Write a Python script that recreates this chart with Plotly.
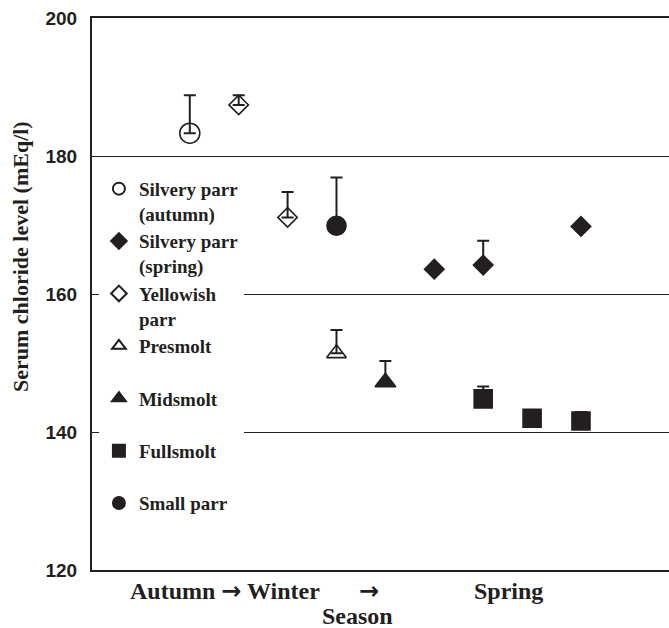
import plotly.graph_objects as go

# Sample position along the season axis (1 = first autumn sample ... 9 = late spring)
groups = [
    "Silvery parr<br>(autumn)",
    "Silvery parr<br>(spring)",
    "Yellowish<br>parr",
    "Presmolt<br>\u00a0",
    "Midsmolt<br>\u00a0",
    "Fullsmolt<br>\u00a0",
    "Small parr<br>\u00a0",
]
group_x = [
    [1],
    [6, 7, 9],
    [2, 3],
    [4],
    [5],
    [7, 8, 9],
    [4],
]
# Mean serum chloride (mEq/l) and upper SE
group_y = [
    [183.3],
    [163.6, 164.2, 169.8],
    [187.4, 171.1],
    [151.4],
    [147.2],
    [144.8, 142.0, 141.6],
    [169.9],
]
group_err = [
    [5.5],
    [0.0, 3.5, 0.0],
    [1.4, 3.7],
    [3.4],
    [3.1],
    [1.8, 0.0, 1.3],
    [7.0],
]
symbols = ["circle-open", "diamond", "diamond-open", "triangle-up-open",
           "triangle-up", "square", "circle"]
sizes = [20, 15, 15, 17, 18, 18, 19]

y_ticks = [120, 140, 160, 180, 200]

INK = "#231f20"
SERIF = "Liberation Serif, Times New Roman, serif"
SANS = "Liberation Sans, Arial, sans-serif"
ARROW = '<span style="font-family:DejaVu Sans">\u2192</span>'
season_labels = [f"Autumn {ARROW} Winter", ARROW, "Spring"]

fig = go.Figure()
for name, xs, ys, es, sym, sz in zip(groups, group_x, group_y, group_err, symbols, sizes):
    fig.add_trace(go.Scatter(
        x=xs, y=ys, mode="markers", name=name,
        marker=dict(symbol=sym, size=sz, color=INK,
                    line=dict(color=INK, width=1.6)),
        error_y=dict(type="data", symmetric=False, array=es,
                     arrayminus=[0] * len(es), color=INK,
                     thickness=2, width=6),
    ))

fig.update_layout(
    width=669, height=628,
    margin=dict(l=92, r=0, t=18, b=58),
    paper_bgcolor="white", plot_bgcolor="white",
    showlegend=True,
    legend=dict(
        x=0.012, y=0.725, xanchor="left", yanchor="top",
        bgcolor="white", borderwidth=0,
        font=dict(family=SERIF, size=19, color=INK, weight="bold"),
        valign="top", itemsizing="constant", tracegroupgap=0,
    ),
    xaxis=dict(
        range=[-1, 10.8], showgrid=False, zeroline=False,
        showticklabels=False, ticks="",
        showline=True, linecolor=INK, linewidth=2, mirror=True,
    ),
    yaxis=dict(
        range=[120, 200], tickvals=y_ticks, ticks="",
        showgrid=True, gridcolor=INK, gridwidth=1.3,
        zeroline=False, showline=True, linecolor=INK, linewidth=2,
        tickfont=dict(family=SANS, size=19, color=INK, weight="bold"),
        ticklabelstandoff=9,
    ),
)

def px_x(px):
    return (px - 92) / 577

def px_y(py):
    return (570 - py) / 552

# Y-axis title
fig.add_annotation(
    text="Serum chloride level (mEq/l)", xref="paper", yref="paper",
    x=px_x(20), y=px_y(257), xanchor="center", yanchor="middle",
    textangle=-90, showarrow=False,
    font=dict(family=SERIF, size=22, color=INK, weight="bold"),
)

# Season labels under the axis
season_pos = [(225, 591), (369, 591), (508, 591)]
for label, (px, py) in zip(season_labels, season_pos):
    fig.add_annotation(
        text=label, xref="paper", yref="paper",
        x=px_x(px), y=px_y(py), xanchor="center", yanchor="middle",
        showarrow=False,
        font=dict(family=SERIF, size=24, color=INK, weight="bold"),
    )
fig.add_annotation(
    text="Season", xref="paper", yref="paper",
    x=px_x(357), y=px_y(616), xanchor="center", yanchor="middle",
    showarrow=False,
    font=dict(family=SERIF, size=24, color=INK, weight="bold"),
)

fig.write_html("out.html")
